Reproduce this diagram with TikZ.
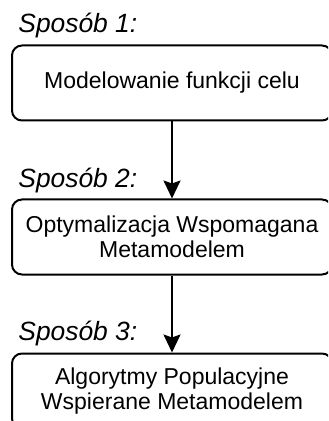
\documentclass[tikz,border=0pt]{standalone}
\usepackage{fontspec}
\setmainfont{Liberation Sans}
\usetikzlibrary{positioning, arrows.meta}

\tikzset{
    box/.style={draw, line width=1pt, rounded corners=5pt, minimum width=160pt, minimum height=37.5pt,
        align=center, inner sep=0pt, font=\fontsize{11.5pt}{12.75pt}\selectfont},
    lbl/.style={inner sep=0pt, anchor=base west, font=\fontsize{13.2pt}{15pt}\selectfont\itshape},
    arr/.style={line width=1pt, -{Stealth[length=9pt, width=8.5pt, inset=1.5pt]}}
}

\begin{document}
\begin{tikzpicture}[x=0.5pt, y=-0.5pt]
    \clip (0,0) rectangle (328,421);

    % Boxes
    \node[box] (model) at (172,83) {Modelowanie funkcji celu};
    \node[box, below=38.5pt of model] (mbo) {Optymalizacja Wspomagana\\Metamodelem};
    \node[box, below=38.5pt of mbo] (mapa) {Algorytmy Populacyjne\\Wspierane Metamodelem};

    % Labels
    \node[lbl] (lbl1) at ([shift={(3.5pt,6pt)}]model.north west) {Sposób 1:};
    \node[lbl] (lbl2) at ([shift={(3.5pt,5.5pt)}]mbo.north west) {Sposób 2:};
    \node[lbl] (lbl3) at ([shift={(3.5pt,6pt)}]mapa.north west) {Sposób 3:};

    % Arrows
    \draw[arr] (model) -- (mbo);
    \draw[arr] (mbo) -- (mapa);
\end{tikzpicture}
\end{document}
